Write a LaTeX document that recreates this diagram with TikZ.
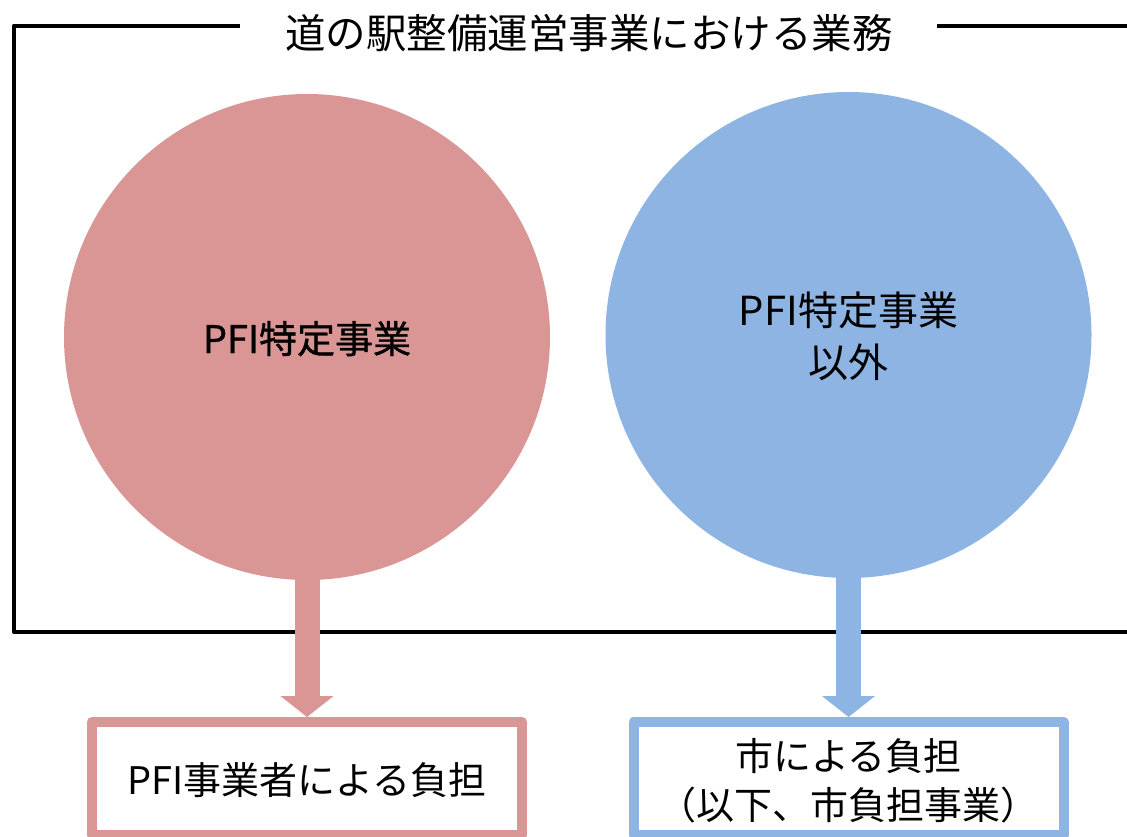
\documentclass[tikz,border=0pt]{standalone}
\usepackage{fontspec}
\setmainfont{Noto Sans CJK JP}
\newfontfamily\heavyjp{Noto Sans CJK JP}[FakeBold=1]
\usetikzlibrary{arrows.meta,calc}
\definecolor{pfired}{HTML}{D99694}
\definecolor{pfiblue}{HTML}{8EB4E3}
\begin{document}
\begin{tikzpicture}[x=1pt,y=-1pt,
  frame/.style={line width=4pt, line join=round, black},
  bubble/.style={circle, inner sep=0pt, minimum size=486pt, draw=none},
  resultbox/.style={rectangle, draw, line width=10pt, line join=round, fill=white,
    minimum width=430pt, minimum height=113pt, inner sep=0pt},
  flow/.style={line width=25pt, -{Triangle[width=52pt,length=21pt]}},
  txt/.style={anchor=base, inner sep=0pt, font=\fontsize{38}{46}\selectfont},
]
\useasboundingbox (0,0) rectangle (1127,836);

% title and frame
\node[txt, font=\fontsize{40.5}{48}\selectfont] (title) at (589,48) {道の駅整備運営事業における業務};
\coordinate (fa) at (240,25.5);
\coordinate (fb) at (14,25.5);
\coordinate (fc) at (14,632);
\coordinate (fd) at (1140,632);
\coordinate (fe) at (937,25.5);
\coordinate (ff) at (1140,25.5);
\draw[frame] (fa) -- (fb) -- (fc) -- (fd);
\draw[frame] (fe) -- (ff);

% circles
\node[bubble, fill=pfired] (red) at (307,337) {};
\node[bubble, fill=pfiblue] (blue) at (848.5,335) {};

% result boxes
\node[resultbox, draw=pfired] (redbox) at (307,778.5) {};
\node[resultbox, draw=pfiblue] (bluebox) at (848.5,778.5) {};

% arrows
\draw[flow, pfired] ($(red.south)+(0,-6)$) -- (redbox.north);
\draw[flow, pfiblue] ($(blue.south)+(0,-6)$) -- (bluebox.north);

% texts
\node[txt, font=\heavyjp\fontsize{38}{46}\selectfont] (redtxt) at (307,353) {PFI特定事業};
\node[txt, font=\fontsize{40}{48}\selectfont] (bluetxta) at (848.5,325) {PFI特定事業};
\node[txt, font=\fontsize{40}{48}\selectfont] (bluetxtb) at (848.5,377) {以外};
\node[txt] (redboxtxt) at (307,794) {PFI事業者による負担};
\node[txt] (blueboxtxta) at (848.5,770.5) {市による負担};
\node[txt] (blueboxtxtb) at (848.5,819.5) {（以下、市負担事業）};
\end{tikzpicture}
\end{document}
